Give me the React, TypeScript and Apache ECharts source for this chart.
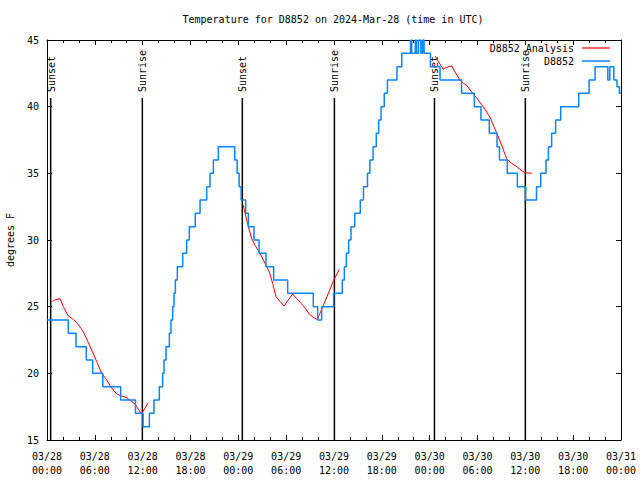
import React, { useEffect, useRef } from 'react';
import * as echarts from 'echarts';

const FONT = '"DejaVu Sans Mono", "Liberation Mono", monospace';

// hours since 2024-03-28 00:00 UTC
const blueHours = [
  0, 2.67, 3.64, 4.93, 5.73, 7.0, 9.24, 11.1, 12.05, 12.84,
  13.42, 14.09, 14.51, 14.68, 14.93, 15.35, 15.55, 15.76, 15.93, 16.1,
  16.35, 17.02, 17.52, 17.85, 18.6, 19.2, 20.03, 20.45, 20.87, 21.49,
  23.55, 23.85, 24.1, 24.35, 24.92, 25.26, 25.97, 26.6, 27.47, 28.43,
  30.19, 33.4, 33.95, 34.45, 35.96, 37.04, 37.3, 37.55, 37.84, 38.13,
  38.6, 39.3, 39.7, 40.2, 40.5, 40.9, 41.3, 41.6, 41.9, 42.3,
  42.7, 43.9, 44.5, 45.6, 45.75, 46.2, 46.35, 46.6, 46.9, 47.1,
  47.3, 48.1, 49.3, 52.0, 53.6, 54.44, 55.48, 56.45, 56.75, 57.74,
  59.0, 60.04, 61.4, 61.93, 62.6, 62.9, 63.3, 63.8, 64.44, 66.7,
  68.0, 68.75, 70.35, 70.6, 71.1, 71.5, 71.8, 72,
];
const blueTemps = [
  24, 23, 22, 21, 20, 19, 18, 17, 16, 17,
  18, 19, 20, 21, 22, 23, 24, 25, 26, 27,
  28, 29, 30, 31, 32, 33, 34, 35, 36, 37,
  36, 35, 34, 33, 32, 31, 30, 29, 28, 27,
  26, 25, 24, 25, 26, 27, 28, 29, 30, 31,
  32, 33, 34, 35, 36, 37, 38, 39, 40, 41,
  42, 43, 44, 45, 44, 45, 44, 45, 44, 45,
  44, 43, 42, 41, 40, 39, 38, 37, 36, 35,
  34, 33, 34, 35, 36, 37, 38, 39, 40, 41,
  42, 43, 42, 43, 42, 41.5, 41, 41,
];

const redHours = [
  0.67, 1.0, 1.63, 2.05, 2.68, 3.3, 3.8, 4.47, 4.97, 5.6,
  6.23, 6.86, 7.49, 8.1, 8.74, 9.37, 9.91, 10.4, 11.04, 11.67,
  11.9, 12.3, 12.7,
  18.0,
  24.63, 24.84, 25.26, 25.68, 26.1, 26.72, 27.35, 27.89, 28.3, 28.73,
  29.23, 29.73, 30.27, 30.8, 31.32, 31.82, 32.36, 32.9, 33.4, 33.9,
  34.24, 34.66, 35.29, 35.9, 36.67,
  42.0,
  48.67, 49.09, 49.7, 50.14, 50.77, 51.18, 51.8, 52.23, 52.65, 53.27,
  54.1, 54.94, 55.57, 56.07, 56.6, 57.16, 57.66, 58.29, 58.92, 59.54,
  59.96, 60.8,
];
const redTemps: (number | null)[] = [
  25.4, 25.5, 25.6, 25.0, 24.3, 24.05, 23.75, 23.2, 22.6, 21.75,
  20.9, 20.0, 19.5, 18.9, 18.45, 18.3, 18.2, 18.0, 17.7, 17.1,
  17.0, 17.4, 17.8,
  null,
  32.6, 32.0, 31.0, 30.1, 29.6, 29.0, 28.25, 27.6, 26.75, 25.75,
  25.4, 25.05, 25.5, 25.95, 25.6, 25.3, 24.9, 24.45, 24.2, 24.05,
  24.5, 25.1, 26.0, 26.9, 27.8,
  null,
  43.8, 43.4, 42.8, 42.95, 43.05, 42.6, 42.0, 41.75, 41.6, 41.1,
  40.5, 39.8, 39.2, 38.5, 37.75, 36.9, 36.1, 35.75, 35.5, 35.2,
  35.05, 35.0,
];

const sunHours = [0.46, 11.96, 24.5, 36.05, 48.6, 60.0];
const sunLabels = ['Sunset', 'Sunrise', 'Sunset', 'Sunrise', 'Sunset', 'Sunrise'];

const titleText = 'Temperature for D8852 on 2024-Mar-28 (time in UTC)';
const seriesNames = ['D8852 Analysis', 'D8852'];
const seriesColors = ['#ff0000', '#0a84ff'];

function fmtHour(h: number): string {
  const day = 28 + Math.floor(h / 24);
  const hh = Math.round(h % 24);
  return `03/${String(day).padStart(2, '0')}\n${String(hh).padStart(2, '0')}:00`;
}

export default function App() {
  const ref = useRef<HTMLDivElement>(null);
  useEffect(() => {
    document.body.style.margin = '0';
    const chart = echarts.init(ref.current!, null, { renderer: 'svg' });
    const axisCommon = {
      axisLine: { show: true, onZero: false, lineStyle: { color: '#000', width: 1 } },
      splitLine: { show: false },
    };
    const legendCommon = {
      right: 30,
      orient: 'horizontal',
      align: 'right',
      icon: 'rect',
      itemWidth: 28,
      padding: 0,
      itemGap: 0,
      selectedMode: false,
      textStyle: { fontFamily: FONT, fontSize: 10, color: '#000', padding: [0, 3, 0, 0] },
    };
    chart.setOption({
      animation: false,
      backgroundColor: '#fff',
      title: {
        text: titleText,
        left: 333,
        top: 14,
        padding: 0,
        textAlign: 'center',
        textStyle: { fontFamily: FONT, fontSize: 10, fontWeight: 'normal', color: '#000' },
      },
      legend: [
        { ...legendCommon, data: [seriesNames[0]], top: 43, itemHeight: 1.2 },
        { ...legendCommon, data: [seriesNames[1]], top: 56, itemHeight: 1.5 },
      ],
      grid: { left: 47, right: 19, top: 40, bottom: 40, outerBoundsMode: 'none', containLabel: false },
      xAxis: [
        {
          ...axisCommon,
          type: 'value',
          min: 0,
          max: 72,
          interval: 6,
          position: 'bottom',
          axisTick: { show: true, inside: true, length: 5, lineStyle: { color: '#000' } },
          minorTick: { show: true, splitNumber: 3, length: 3, lineStyle: { color: '#000' } },
          axisLabel: {
            formatter: (v: number) => fmtHour(v),
            fontFamily: FONT,
            fontSize: 10,
            color: '#000',
            lineHeight: 14,
            margin: 9,
          },
        },
        {
          ...axisCommon,
          type: 'value',
          min: 0,
          max: 72,
          interval: 6,
          position: 'top',
          axisTick: { show: true, inside: true, length: 5, lineStyle: { color: '#000' } },
          minorTick: { show: true, splitNumber: 3, length: 3, lineStyle: { color: '#000' } },
          axisLabel: { show: false },
        },
      ],
      yAxis: [
        {
          ...axisCommon,
          type: 'value',
          min: 15,
          max: 45,
          interval: 5,
          position: 'left',
          axisTick: { show: true, inside: true, length: 5, lineStyle: { color: '#000' } },
          axisLabel: { fontFamily: FONT, fontSize: 10, color: '#000', margin: 8 },
          name: 'degrees F',
          nameLocation: 'middle',
          nameGap: 32,
          nameTextStyle: { fontFamily: FONT, fontSize: 10, color: '#000' },
        },
        {
          ...axisCommon,
          type: 'value',
          min: 15,
          max: 45,
          interval: 5,
          position: 'right',
          axisTick: { show: true, inside: true, length: 5, lineStyle: { color: '#000' } },
          axisLabel: { show: false },
        },
      ],
      series: [
        {
          type: 'custom',
          name: 'sun',
          xAxisIndex: 0,
          yAxisIndex: 0,
          silent: true,
          z: 1,
          data: sunHours.map((h) => [h, 15]),
          encode: { x: 0, y: 1 },
          renderItem: (params: any, api: any) => {
            const x = api.coord([api.value(0), 15])[0];
            const cs = params.coordSys;
            const bottom = cs.y + cs.height;
            return {
              type: 'group',
              children: [
                {
                  type: 'line',
                  shape: { x1: x, y1: cs.y + 58, x2: x, y2: bottom },
                  style: { stroke: '#000', lineWidth: 1.5 },
                },
                {
                  type: 'text',
                  x: x + 0.5,
                  y: cs.y + 52,
                  rotation: Math.PI / 2,
                  style: {
                    text: sunLabels[params.dataIndex],
                    fontFamily: FONT,
                    fontSize: 10,
                    align: 'left',
                    verticalAlign: 'middle',
                    fill: '#000',
                  },
                },
              ],
            };
          },
        },
        {
          type: 'line',
          name: seriesNames[0],
          data: redHours.map((h, i) => [h, redTemps[i]]),
          symbol: 'none',
          connectNulls: false,
          lineStyle: { color: seriesColors[0], width: 1 },
          itemStyle: { color: seriesColors[0] },
          z: 2,
        },
        {
          type: 'line',
          name: seriesNames[1],
          data: blueHours.map((h, i) => [h, blueTemps[i]]),
          step: 'end',
          symbol: 'none',
          lineStyle: { color: seriesColors[1], width: 1.5 },
          itemStyle: { color: seriesColors[1] },
          z: 3,
        },
      ],
    });
    return () => chart.dispose();
  }, []);
  return <div ref={ref} style={{ width: 640, height: 480 }} />;
}
